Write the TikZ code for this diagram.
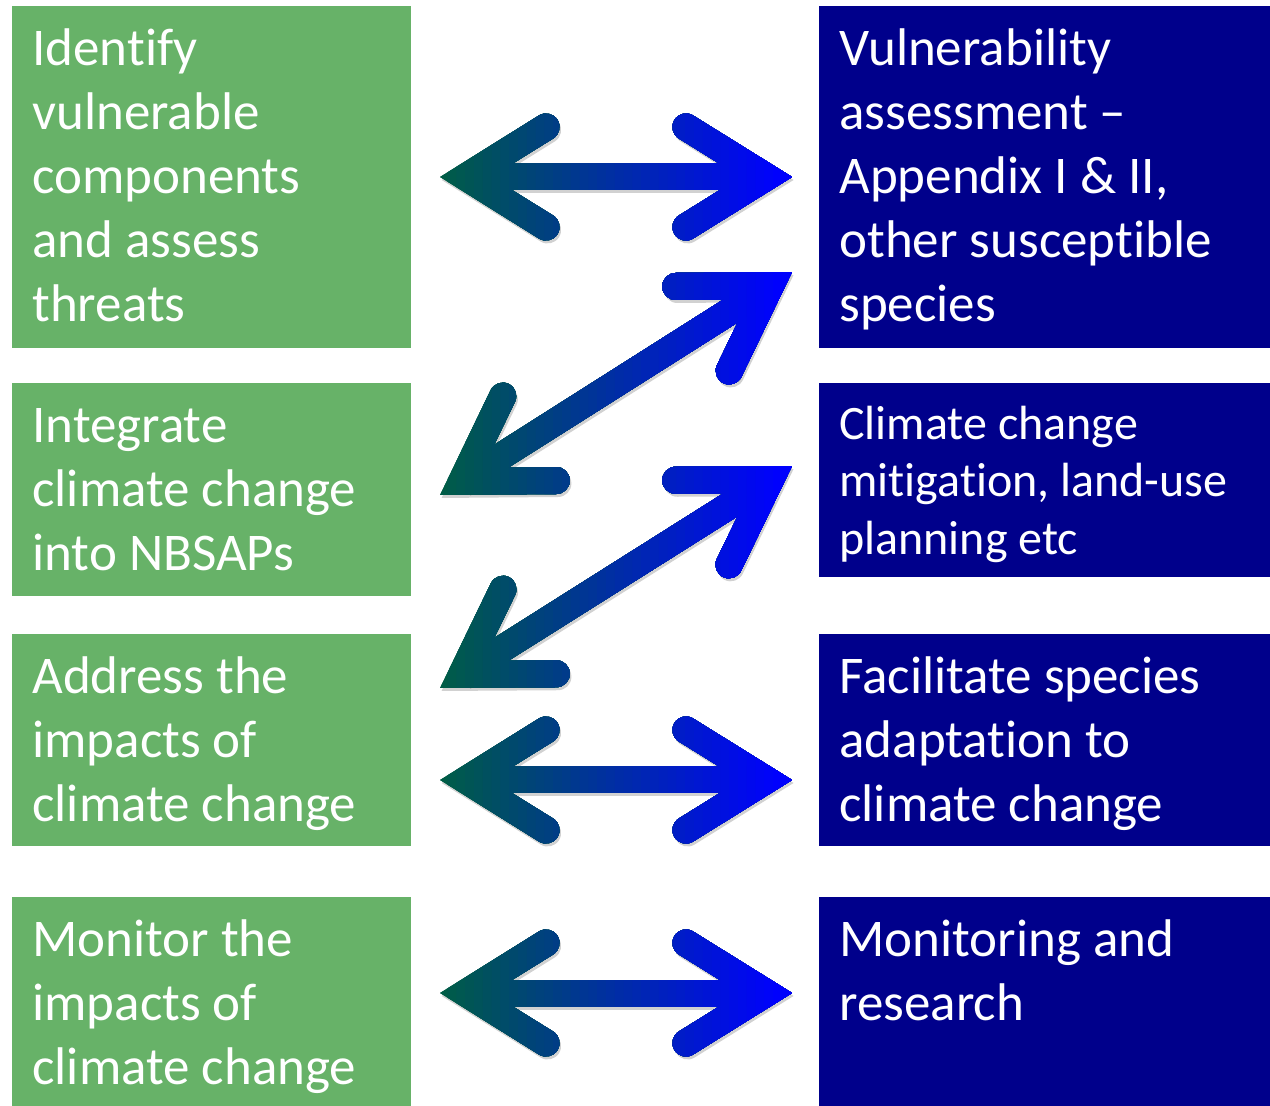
\documentclass[tikz,border=0pt]{standalone}
\usepackage{fontspec}
\setmainfont{Carlito}[Ligatures={NoCommon,NoContextual}]
\usetikzlibrary{positioning,calc}

\definecolor{boxgreen}{RGB}{103,178,104}
\definecolor{boxnavy}{RGB}{0,0,139}
\definecolor{arrowteal}{RGB}{0,96,64}
\definecolor{arrowblue}{RGB}{0,0,255}

\newcommand{\bigtext}{\fontsize{26.5pt}{32pt}\selectfont}
\newcommand{\smalltext}{\fontsize{24pt}{28.75pt}\selectfont}
\newcommand{\lift}[1]{\rule{0pt}{#1}}

% double headed arrow between two named tips
\newcommand{\twoway}[2]{%
	\draw ($(#1)!58.6pt!25.25:(#2)$) -- ($(#1)!12.8pt!(#2)$) -- ($(#1)!58.6pt!-25.25:(#2)$)
		($(#2)!58.6pt!25.25:(#1)$) -- ($(#2)!12.8pt!(#1)$) -- ($(#2)!58.6pt!-25.25:(#1)$);
	\draw[line cap=butt] ($(#1)!12.8pt!(#2)$) -- ($(#2)!12.8pt!(#1)$);
}
\newcommand{\allarrows}{%
	\twoway{a_1l}{a_1r}
	\twoway{a_2l}{a_2r}
	\twoway{a_3l}{a_3r}
	\twoway{a_4l}{a_4r}
	\twoway{a_5l}{a_5r}
}

\begin{document}
\begin{tikzpicture}[x=0.5pt,y=-0.5pt,
		gbox/.style={fill=boxgreen,minimum width=199.5pt,inner sep=0pt,outer sep=0pt},
		nbox/.style={fill=boxnavy,minimum width=225.5pt,inner sep=0pt,outer sep=0pt},
		boxtext/.style={anchor=north west,inner xsep=10pt,inner ysep=7.5pt,align=left,text=white},
		bigtext/.style={boxtext,font=\bigtext},
		smalltext/.style={boxtext,font=\smalltext},
		arrowline/.style={line width=13.5pt,line join=miter,line cap=round}]
	\useasboundingbox (0,0) rectangle (1270,1106);

	% left column
	\node[gbox,minimum height=171pt,anchor=north west] (g_1) at (12,6) {};
	\node[gbox,minimum height=106.5pt] (g_2) [below=17.5pt of g_1] {};
	\node[gbox,minimum height=106pt] (g_3) [below=19pt of g_2] {};
	\node[gbox,minimum height=104.5pt] (g_4) [below=25.5pt of g_3] {};

	% right column
	\node[nbox,minimum height=171pt] (b_1) [right=204pt of g_1] {};
	\node[nbox,minimum height=97pt] (b_2) [right=204pt of g_2.north east,anchor=north west] {};
	\node[nbox,minimum height=106pt] (b_3) [right=204pt of g_3] {};
	\node[nbox,minimum height=104.5pt] (b_4) [right=204pt of g_4] {};

	\node[bigtext] (gt_1) at (g_1.north west) {\lift{22pt}Identify\\vulnerable\\components\\and assess\\threats};
	\node[bigtext] (gt_2) at (g_2.north west) {\lift{22pt}Integrate\\climate change\\into NBSAPs};
	\node[bigtext] (gt_3) at (g_3.north west) {\lift{22pt}Address the\\impacts of\\climate change};
	\node[bigtext] (gt_4) at (g_4.north west) {\lift{22pt}Monitor the\\impacts of\\climate change};
	\node[bigtext] (bt_1) at (b_1.north west) {\lift{22pt}Vulnerability\\assessment –\\Appendix I \& II,\\other susceptible\\species};
	\node[smalltext] (bt_2) at (b_2.north west) {\lift{20.5pt}Climate change\\mitigation, land-use\\planning etc};
	\node[bigtext] (bt_3) at (b_3.north west) {\lift{22pt}Facilitate species\\adaptation to\\climate change};
	\node[bigtext] (bt_4) at (b_4.north west) {\lift{22pt}Monitoring and\\research};

	% arrow tips
	\coordinate[right=14.5pt of g_1.east] (a_1l);
	\coordinate[left=13.5pt of b_1.west] (a_1r);
	\coordinate[below right=2.75pt and 14.5pt of g_2.east] (a_2l);
	\coordinate[below left=47.5pt and 13.5pt of b_1.west] (a_2r);
	\coordinate[above right=26pt and 14.5pt of g_3.east] (a_3l);
	\coordinate[above left=7pt and 13.5pt of b_2.west] (a_3r);
	\coordinate[below right=20pt and 14.5pt of g_3.east] (a_4l);
	\coordinate[below left=20pt and 13.5pt of b_3.west] (a_4r);
	\coordinate[above right=4.25pt and 14.5pt of g_4.east] (a_5l);
	\coordinate[above left=4.25pt and 13.5pt of b_4.west] (a_5r);

	% soft shadow
	\begin{scope}[transform canvas={shift={(0.8pt,-1.5pt)}},arrowline,color=black,opacity=0.18]
		\allarrows
	\end{scope}

	% gradient in thin strips
	\foreach \i in {0,...,39}{
		\pgfmathsetmacro\pct{(\i+0.5)*2.5}
		\colorlet{stripcol}{arrowblue!\pct!arrowteal}
		\begin{scope}
			\clip ({430+\i*8.8},0) rectangle (1270,1106);
			\begin{scope}[arrowline,color=stripcol]
				\allarrows
			\end{scope}
		\end{scope}
	}
\end{tikzpicture}
\end{document}
